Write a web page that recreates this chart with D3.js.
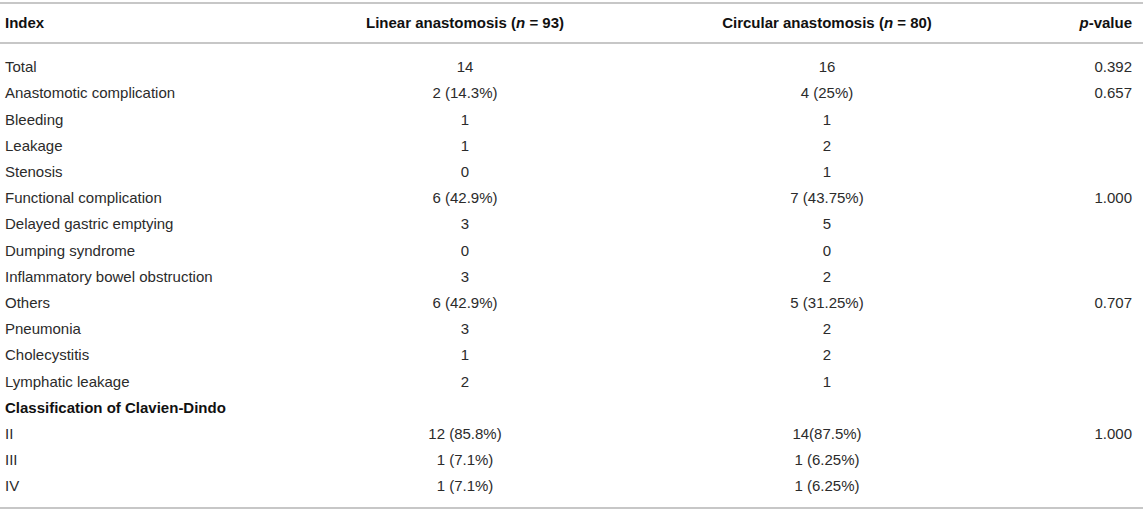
<!DOCTYPE html>
<html>
<head>
<meta charset="utf-8">
<script src="https://d3js.org/d3.v7.min.js"></script>
<style>
  body { margin: 0; background: #fff; }
  svg text { font-family: "Liberation Sans", Arial, Helvetica, sans-serif; font-size: 15px; }
</style>
</head>
<body>
<svg id="tbl" width="1143" height="513"></svg>
<script>
// table content
const rowLabels = ["Total", "Anastomotic complication", "Bleeding", "Leakage", "Stenosis",
  "Functional complication", "Delayed gastric emptying", "Dumping syndrome",
  "Inflammatory bowel obstruction", "Others", "Pneumonia", "Cholecystitis",
  "Lymphatic leakage", "Classification of Clavien-Dindo", "II", "III", "IV"];
const linearValues = ["14", "2 (14.3%)", "1", "1", "0", "6 (42.9%)", "3", "0", "3",
  "6 (42.9%)", "3", "1", "2", "", "12 (85.8%)", "1 (7.1%)", "1 (7.1%)"];
const circularValues = ["16", "4 (25%)", "1", "2", "1", "7 (43.75%)", "5", "0", "2",
  "5 (31.25%)", "2", "2", "1", "", "14(87.5%)", "1 (6.25%)", "1 (6.25%)"];
const pValues = ["0.392", "0.657", "", "", "", "1.000", "", "", "",
  "0.707", "", "", "", "", "1.000", "", ""];
const boldRows = ["Classification of Clavien-Dindo"];

const svg = d3.select("#tbl");
const W = 1143;

// row positions
const ys = d3.scalePoint().domain(d3.range(rowLabels.length)).range([67, 486]);

// column x positions
const xIndex = 5, xLinear = 465, xCircular = 827, xP = 1132;

// rules
const lineColor = "#b4b4b4";
[3, 43, 508].forEach(y => {
  svg.append("line")
    .attr("x1", 0).attr("x2", W)
    .attr("y1", y).attr("y2", y)
    .attr("stroke", lineColor)
    .attr("stroke-width", 1.6);
});

// header
const header = svg.append("g").attr("font-weight", "bold").attr("fill", "#111")
  .style("font-size", "15.6px");
header.append("text").attr("x", xIndex).attr("y", 23).attr("dy", "0.35em").text("Index");

const h1 = header.append("text").attr("x", xLinear).attr("y", 23).attr("dy", "0.35em").attr("text-anchor", "middle");
h1.append("tspan").text("Linear anastomosis (");
h1.append("tspan").attr("font-style", "italic").text("n");
h1.append("tspan").text(" = 93)");

const h2 = header.append("text").attr("x", xCircular).attr("y", 23).attr("dy", "0.35em").attr("text-anchor", "middle");
h2.append("tspan").text("Circular anastomosis (");
h2.append("tspan").attr("font-style", "italic").text("n");
h2.append("tspan").text(" = 80)");

const h3 = header.append("text").attr("x", xP).attr("y", 23).attr("dy", "0.35em").attr("text-anchor", "end");
h3.append("tspan").attr("font-style", "italic").text("p");
h3.append("tspan").text("-value");

// body rows
const rows = svg.selectAll("g.row")
  .data(rowLabels.map((label, i) => ({label, lin: linearValues[i], circ: circularValues[i], p: pValues[i], i})))
  .join("g")
  .attr("class", "row")
  .attr("transform", d => `translate(0,${ys(d.i)})`)
  .attr("fill", "#2b2b2b");

rows.append("text")
  .attr("x", xIndex).attr("dy", "0.35em")
  .attr("font-weight", d => boldRows.includes(d.label) ? "bold" : null)
  .attr("fill", d => boldRows.includes(d.label) ? "#111" : null)
  .text(d => d.label);

rows.append("text")
  .attr("x", xLinear).attr("dy", "0.35em").attr("text-anchor", "middle")
  .text(d => d.lin);

rows.append("text")
  .attr("x", xCircular).attr("dy", "0.35em").attr("text-anchor", "middle")
  .text(d => d.circ);

rows.append("text")
  .attr("x", xP).attr("dy", "0.35em").attr("text-anchor", "end")
  .text(d => d.p);
</script>
</body>
</html>
